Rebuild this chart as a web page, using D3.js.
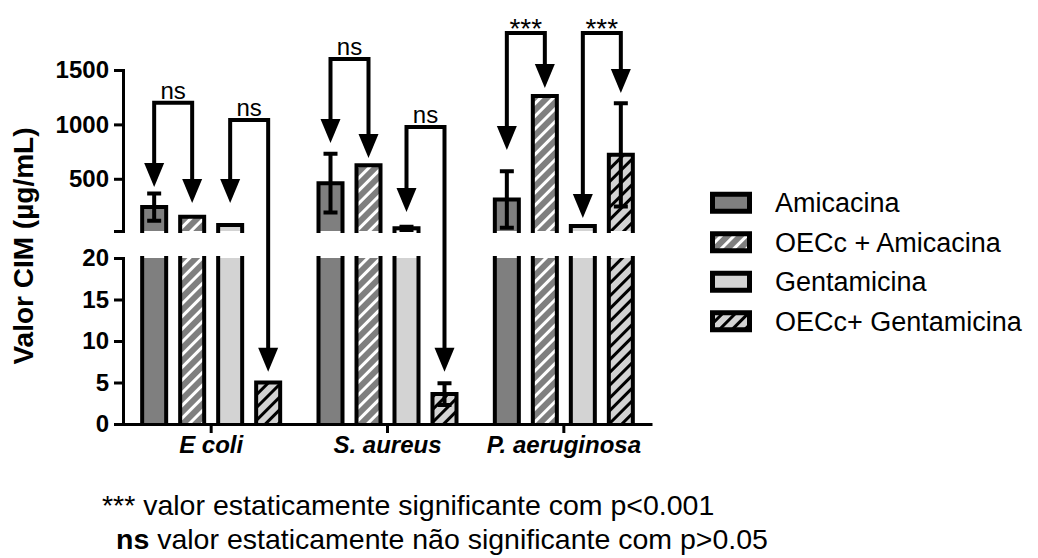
<!DOCTYPE html>
<html>
<head>
<meta charset="utf-8">
<script src="https://cdn.jsdelivr.net/npm/d3@7"></script>
<style>
body { margin: 0; background: #fff; }
svg { font-family: "Liberation Sans", Arial, sans-serif; }
</style>
</head>
<body>
<svg id="chart" width="1038" height="558"></svg>
<script>
var groups = ["E coli", "S. aureus", "P. aeruginosa"];
var series = ["Amicacina", "OECc + Amicacina", "Gentamicina", "OECc+ Gentamicina"];
// mean CIM per group, in series order
var means = [
  [240, 150, 75, 5],
  [460, 625, 45, 3.6],
  [310, 1260, 65, 720]
];
// error (SD) per group, in series order
var errors = [
  [125, 0, 0, 0],
  [270, 0, 15, 1.3],
  [260, 0, 0, 475]
];
var topTicks = [500, 1000, 1500];
var bottomTicks = [0, 5, 10, 15, 20];
// group, bar a, bar b, label, bracket height, arrow tip a, arrow tip b (µg/mL)
var comparisons = [
  [0, 0, 1, "ns", 1200, 424, 277],
  [0, 2, 3, "ns", 1040, 277, 6.3],
  [1, 0, 1, "ns", 1600, 829, 691],
  [1, 2, 3, "ns", 975, 195, 6.3],
  [2, 0, 1, "***", 1840, 764, 1334],
  [2, 2, 3, "***", 1840, 139, 1288]
];
var yTitle = "Valor CIM (µg/mL)";
var note1 = "*** valor estaticamente significante com p<0.001";
var note2 = [" valor estaticamente não significante com p>0.05", "ns"];

var breakAt = 20;
var svg = d3.select("#chart");
var defs = svg.append("defs");

function hatch(id, bg, line) {
  var p = defs.append("pattern")
    .attr("id", id)
    .attr("patternUnits", "userSpaceOnUse")
    .attr("width", 9).attr("height", 9)
    .attr("patternTransform", "rotate(45)");
  p.append("rect").attr("width", 9).attr("height", 9).attr("fill", bg);
  p.append("rect").attr("width", 3).attr("height", 9).attr("fill", line);
}
hatch("hatchDark", "#7f7f7f", "#fff");
hatch("hatchLight", "#d3d3d3", "#000");
var fills = ["#7f7f7f", "url(#hatchDark)", "#d3d3d3", "url(#hatchLight)"];

var x0 = d3.scaleBand().domain(groups).range([123, 652]);
var x1 = d3.scaleBand().domain(series).range([-71, 71]).paddingInner(0.263);
var yTop = d3.scaleLinear().domain([breakAt, 1500]).range([231, 70]);
var yBot = d3.scaleLinear().domain([0, breakAt]).range([424, 258]);

function yOf(v) { return v >= breakAt ? yTop(v) : yBot(v); }
function barCenter(g, s) {
  return x0(groups[g]) + x0.bandwidth() / 2 + x1(series[s]) + x1.bandwidth() / 2;
}

// flatten to one record per bar
var bars = [];
means.forEach(function(row, g) {
  row.forEach(function(v, s) {
    bars.push({ g: g, s: s, v: v, e: errors[g][s], cx: barCenter(g, s) });
  });
});

var bw = x1.bandwidth() - 4;
var plot = svg.append("g");

// lower segment
plot.selectAll(".barBot").data(bars).join("rect")
  .attr("class", "barBot")
  .attr("x", d => d.cx - bw / 2)
  .attr("width", bw)
  .attr("y", d => yBot(Math.min(d.v, breakAt)))
  .attr("height", d => yBot(0) - yBot(Math.min(d.v, breakAt)))
  .attr("fill", d => fills[d.s]);
plot.selectAll(".edgeBot").data(bars).join("path")
  .attr("class", "edgeBot")
  .attr("d", function(d) {
    var l = d.cx - bw / 2, r = d.cx + bw / 2, b = yBot(0);
    if (d.v >= breakAt) return "M" + l + "," + b + "V" + yBot(breakAt) + "M" + r + "," + yBot(breakAt) + "V" + b;
    return "M" + l + "," + b + "V" + yBot(d.v) + "H" + r + "V" + b;
  });

// upper segment
var upper = bars.filter(d => d.v > breakAt);
plot.selectAll(".barTop").data(upper).join("rect")
  .attr("class", "barTop")
  .attr("x", d => d.cx - bw / 2)
  .attr("width", bw)
  .attr("y", d => yTop(d.v))
  .attr("height", d => yTop(breakAt) - yTop(d.v))
  .attr("fill", d => fills[d.s]);
plot.selectAll(".edgeTop").data(upper).join("path")
  .attr("class", "edgeTop")
  .attr("d", function(d) {
    var l = d.cx - bw / 2, r = d.cx + bw / 2, b = yTop(breakAt);
    return "M" + l + "," + b + "V" + yTop(d.v) + "H" + r + "V" + b;
  });
plot.selectAll(".edgeBot, .edgeTop")
  .attr("fill", "none").attr("stroke", "#000").attr("stroke-width", 4)
  .attr("stroke-linejoin", "miter").attr("stroke-linecap", "square");

// error bars
plot.selectAll(".err").data(bars.filter(d => d.e > 0)).join("path")
  .attr("class", "err")
  .attr("d", function(d) {
    var hi = yOf(d.v + d.e), lo = yOf(d.v - d.e), c = 7;
    return "M" + d.cx + "," + lo + "V" + hi +
      "M" + (d.cx - c) + "," + hi + "H" + (d.cx + c) +
      "M" + (d.cx - c) + "," + lo + "H" + (d.cx + c);
  })
  .attr("fill", "none").attr("stroke", "#000").attr("stroke-width", 4);

// axes
function styleAxis(g, size) {
  g.selectAll("path, line").attr("stroke", "#000").attr("stroke-width", 3);
  g.selectAll("text").attr("fill", "#000").attr("font-size", size).attr("font-weight", "bold");
}
svg.append("g").attr("transform", "translate(123,0)")
  .call(d3.axisLeft(yTop).tickValues(topTicks).tickFormat(d3.format("d")).tickSize(9).tickPadding(5))
  .call(g => styleAxis(g, 24));
svg.append("g").attr("transform", "translate(123,0)")
  .call(d3.axisLeft(yBot).tickValues(bottomTicks).tickFormat(d3.format("d")).tickSize(9).tickPadding(5))
  .call(g => styleAxis(g, 24));
svg.append("g").attr("transform", "translate(0,424)")
  .call(d3.axisBottom(x0).tickSize(9).tickSizeOuter(0).tickPadding(3))
  .call(g => styleAxis(g, 24))
  .call(g => g.selectAll("text").attr("font-style", "italic"));
svg.selectAll(".domain").attr("fill", "none");

svg.append("text")
  .attr("transform", "translate(33,246) rotate(-90)")
  .attr("text-anchor", "middle")
  .attr("font-size", 28).attr("font-weight", "bold")
  .text(yTitle);

// significance brackets
var sig = svg.append("g");
comparisons.forEach(function(c) {
  var xa = barCenter(c[0], c[1]), xb = barCenter(c[0], c[2]);
  var yl = yTop(c[4]), ta = yOf(c[5]), tb = yOf(c[6]);
  var ah = 24, aw = 10;
  sig.append("path")
    .attr("d", "M" + xa + "," + (ta - ah + 2) + "V" + yl + "H" + xb + "V" + (tb - ah + 2))
    .attr("fill", "none").attr("stroke", "#000").attr("stroke-width", 4)
    .attr("stroke-linejoin", "miter");
  [[xa, ta], [xb, tb]].forEach(function(p) {
    sig.append("path")
      .attr("d", "M" + (p[0] - aw) + "," + (p[1] - ah) + "L" + (p[0] + aw) + "," + (p[1] - ah) + "L" + p[0] + "," + p[1] + "Z")
      .attr("fill", "#000");
  });
  var star = c[3] === "***";
  sig.append("text")
    .attr("x", (xa + xb) / 2)
    .attr("y", star ? yl + 5 : yl - 4)
    .attr("text-anchor", "middle")
    .attr("font-size", star ? 28 : 24)
    .text(c[3]);
});

// legend
var ly = d3.scaleBand().domain(series).range([183, 341]);
var legend = svg.append("g").selectAll("g").data(series).join("g")
  .attr("transform", d => "translate(0," + (ly(d) + ly.bandwidth() / 2) + ")");
legend.append("rect")
  .attr("x", 712.5).attr("y", -8.5).attr("width", 37).attr("height", 17)
  .attr("fill", (d, i) => fills[i])
  .attr("stroke", "#000").attr("stroke-width", 5);
legend.append("text")
  .attr("x", 775).attr("y", 9.5)
  .attr("font-size", 27)
  .text(d => d);

// footnotes
svg.append("text").attr("x", 102).attr("y", 515).attr("font-size", 28.5).text(note1);
var n2 = svg.append("text").attr("x", 116).attr("y", 549).attr("font-size", 28.5);
n2.append("tspan").attr("font-weight", "bold").text(note2[1]);
n2.append("tspan").text(note2[0]);
</script>
</body>
</html>
